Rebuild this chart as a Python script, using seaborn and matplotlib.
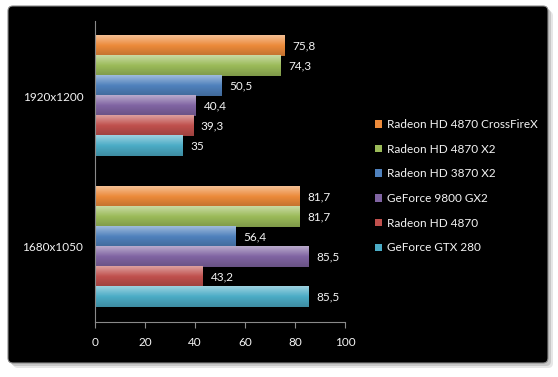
import numpy as np
import pandas as pd
import matplotlib
matplotlib.use("Agg")
import matplotlib.pyplot as plt
import matplotlib.colors as mcolors
from matplotlib.patches import FancyBboxPatch
import seaborn as sns

# ---- data ----
resolutions = ["1920x1200", "1680x1050"]
cards = ["Radeon HD 4870 CrossFireX", "Radeon HD 4870 X2", "Radeon HD 3870 X2",
         "GeForce 9800 GX2", "Radeon HD 4870", "GeForce GTX 280"]
fps_1920 = [75.8, 74.3, 50.5, 40.4, 39.3, 35]
fps_1680 = [81.7, 81.7, 56.4, 85.5, 43.2, 85.5]
x_ticks = [0, 20, 40, 60, 80, 100]
colors = ["#EC8A3A", "#9BBB59", "#4F81BD", "#8064A2", "#C0504D", "#4BACC6"]

rows = []
for res, vals in zip(resolutions, [fps_1920, fps_1680]):
    for c, v in zip(cards, vals):
        rows.append({"res": res, "card": c, "fps": v})
df = pd.DataFrame(rows)

sns.set_theme(style="white")
plt.rcParams["font.family"] = ["Lato", "DejaVu Sans"]
TXT = "#F4F4F4"
FS = 8.5

W, H = 558, 377
fig = plt.figure(figsize=(W / 100, H / 100), dpi=100)
fig.patch.set_facecolor("white")

# ---- background frame ----
bg = fig.add_axes([0, 0, 1, 1], zorder=-10)
bg.set_xlim(0, W)
bg.set_ylim(H, 0)
bg.axis("off")
for off, col in [(5, "#e6e6e6"), (3, "#c8c8c8")]:
    sh = FancyBboxPatch((8 + off, 6 + off), 540, 357,
                        boxstyle="round,pad=0,rounding_size=5",
                        facecolor=col, edgecolor="none")
    bg.add_patch(sh)
frame = FancyBboxPatch((8, 6), 540, 357, boxstyle="round,pad=0,rounding_size=5",
                       facecolor="black", edgecolor="#8a8a8a", lw=0.8)
bg.add_patch(frame)
t = np.linspace(0, 1, 400)
g = 0.43 * np.clip(1 - t / 0.42, 0, 1) ** 1.5
grad = np.repeat(g[:, None], 2, axis=1)
im = bg.imshow(np.dstack([grad, grad, grad]), extent=(8, 548, 363, 6),
               aspect="auto", interpolation="bilinear")
im.set_clip_path(frame)
bg.set_xlim(0, W)
bg.set_ylim(H, 0)

# ---- main chart ----
ax = fig.add_axes([95 / W, 1 - 322 / H, 250 / W, 301 / H])
ax.set_facecolor("none")
sns.barplot(data=df, x="fps", y="res", hue="card", orient="h",
            palette=colors, saturation=1, width=0.8, ax=ax,
            order=resolutions, hue_order=cards, legend=True, linewidth=0)

# gradient shading on bars
def shade(col):
    base = np.array(mcolors.to_rgb(col))
    light = base + (1 - base) * 0.45
    dark = base * 0.82
    n = 32
    s = np.linspace(0, 1, n)[:, None]
    top = np.where(s < 0.5, light * (1 - s * 2) + base * (s * 2), 0)
    bot = np.where(s >= 0.5, base * (1 - (s - 0.5) * 2) + dark * ((s - 0.5) * 2), 0)
    arr = top + bot
    return np.repeat(arr[:, None, :], 2, axis=1)

for cont, col in zip(ax.containers, colors):
    img = shade(col)
    for p in cont.patches:
        p.set_edgecolor("none")
        x0, y0, w, h = p.get_x(), p.get_y(), p.get_width(), p.get_height()
        ax.imshow(img, extent=(x0, x0 + w, y0 + h, y0), aspect="auto",
                  interpolation="bilinear", zorder=p.get_zorder() + 0.1)
    labels = [f"{v:g}".replace(".", ",") for v in cont.datavalues]
    ax.bar_label(cont, labels=labels, padding=5.5, color=TXT, fontsize=FS)

ax.set_xlim(0, 100)
ax.set_ylim(1.5, -0.5)
ax.set_xticks(x_ticks)
ax.set_xticklabels([str(v) for v in x_ticks], color=TXT, fontsize=FS)
ax.set_yticks([0, 1])
ax.set_yticklabels(resolutions, color=TXT, fontsize=FS)
ax.set_yticks([-0.5, 0.5, 1.5], minor=True)
ax.tick_params(axis="y", which="major", length=0, pad=8.5)
ax.tick_params(axis="y", which="minor", length=4, color="#8a8a8a", width=0.8)
ax.tick_params(axis="x", which="major", length=4, color="#8a8a8a", width=0.8,
               direction="out", pad=7, bottom=True)
ax.set_xlabel("")
ax.set_ylabel("")
for s in ["top", "right"]:
    ax.spines[s].set_visible(False)
for s in ["left", "bottom"]:
    ax.spines[s].set_color("#8a8a8a")
    ax.spines[s].set_linewidth(0.8)

# legend
handles, lbls = ax.get_legend_handles_labels()
ax.get_legend().remove()
leg = fig.legend(handles, lbls, loc="upper left", bbox_to_anchor=(375 / W, 1 - 119 / H),
                 frameon=False, fontsize=FS, handlelength=0.6, handleheight=0.6,
                 handletextpad=0.45, labelspacing=1.16, borderaxespad=0, borderpad=0)
for txt in leg.get_texts():
    txt.set_color(TXT)

fig.savefig("out.png", dpi=100)
